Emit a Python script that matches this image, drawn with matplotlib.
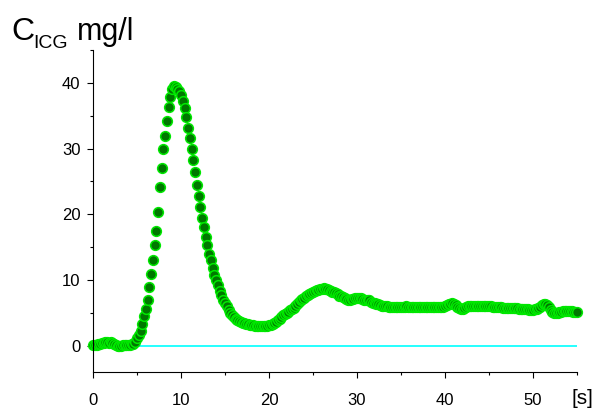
import numpy as np
import matplotlib
matplotlib.use("Agg")
import matplotlib.pyplot as plt
from matplotlib.ticker import MultipleLocator

plt.rcParams['font.family'] = ['Liberation Sans', 'DejaVu Sans']

# ICG concentration curve, sampled every 0.2 s from 0 to 55 s
dt = 0.2
conc = [
    # 0.0 - 4.8 s
    0.1, 0.05, 0.1, 0.2, 0.3, 0.4, 0.45, 0.5, 0.5, 0.45,
    0.5, 0.45, 0.3, 0.15, 0.0, -0.05, 0.0, 0.05, 0.05, 0.1,
    0.1, 0.15, 0.2, 0.3, 0.55,
    # 5.0 - 9.8 s
    1.1, 1.6, 2.3, 3.3, 4.5, 5.6, 7.0, 8.9, 10.9, 13.1,
    15.4, 17.5, 20.4, 24.1, 27.1, 30.0, 31.9, 34.2, 36.4, 37.9,
    39.1, 39.5, 39.4, 39.0, 38.7,
    # 10.0 - 14.8 s
    38.2, 37.3, 36.1, 34.8, 33.1, 31.6, 29.9, 28.3, 26.5, 24.5,
    22.8, 21.1, 19.5, 18.0, 16.6, 15.3, 14.0, 13.0, 11.9, 10.8,
    10.0, 9.2, 8.4, 7.7, 7.0,
    # 15.0 - 19.8 s
    6.5, 6.0, 5.45, 5.0, 4.65, 4.3, 4.05, 3.9, 3.75, 3.6,
    3.5, 3.45, 3.35, 3.28, 3.2, 3.15, 3.1, 3.05, 3.0, 2.95,
    2.95, 2.95, 3.0, 3.0, 3.05,
    # 20.0 - 24.8 s
    3.1, 3.2, 3.35, 3.5, 3.65, 3.85, 4.1, 4.4, 4.7, 4.9,
    5.05, 5.2, 5.4, 5.55, 5.8, 6.1, 6.4, 6.65, 6.9, 7.1,
    7.3, 7.5, 7.7, 7.9, 8.05,
    # 25.0 - 29.8 s
    8.2, 8.35, 8.5, 8.55, 8.6, 8.7, 8.75, 8.7, 8.6, 8.45,
    8.35, 8.25, 8.15, 8.0, 7.8, 7.6, 7.5, 7.4, 7.25, 7.1,
    7.0, 7.0, 7.05, 7.1, 7.2,
    # 30.0 - 34.8 s
    7.25, 7.25, 7.2, 7.1, 7.0, 7.0, 7.0, 6.9, 6.7, 6.55,
    6.45, 6.4, 6.3, 6.2, 6.1, 6.0, 6.0, 6.0, 5.95, 5.95,
    5.95, 5.9, 5.9, 5.85, 5.85,
    # 35.0 - 39.8 s
    5.85, 5.9, 5.95, 6.0, 5.95, 5.9, 5.85, 5.85, 5.9, 5.9,
    5.9, 5.9, 5.9, 5.9, 5.95, 5.95, 5.95, 5.95, 5.9, 5.9,
    5.9, 5.85, 5.85, 5.9, 5.95,
    # 40.0 - 44.8 s
    6.0, 6.15, 6.3, 6.4, 6.45, 6.35, 6.15, 5.9, 5.7, 5.6,
    5.6, 5.7, 5.85, 6.0, 6.05, 6.1, 6.1, 6.1, 6.1, 6.1,
    6.05, 6.05, 6.05, 6.0, 6.0,
    # 45.0 - 49.8 s
    6.0, 6.0, 5.95, 5.95, 5.9, 5.9, 5.85, 5.85, 5.8, 5.8,
    5.8, 5.75, 5.75, 5.75, 5.7, 5.7, 5.7, 5.65, 5.65, 5.6,
    5.6, 5.55, 5.55, 5.5, 5.5,
    # 50.0 - 55.0 s
    5.5, 5.55, 5.6, 5.7, 5.95, 6.2, 6.3, 6.35, 6.2, 5.85,
    5.45, 5.15, 4.95, 4.95, 5.0, 5.1, 5.2, 5.3, 5.35, 5.35,
    5.35, 5.3, 5.25, 5.2, 5.1, 5.1,
]
time = np.arange(len(conc)) * dt

x_ticks = [0, 10, 20, 30, 40, 50]
y_ticks = [0, 10, 20, 30, 40]

fig = plt.figure(figsize=(5.97, 4.12), dpi=100)
ax = fig.add_axes([93 / 597, 40 / 412, 484 / 597, 322 / 412])

ax.axhline(0, color='#00ffff', lw=1.2, zorder=1)
ax.plot(time, conc, 'o', ls='none', ms=7.0, mfc='#007800', mec='#00e800',
        mew=1.1, zorder=2, clip_on=False)

ax.set_xlim(0, 55)
ax.set_ylim(-4, 45)
ax.set_xticks(x_ticks)
ax.set_yticks(y_ticks)
ax.xaxis.set_minor_locator(MultipleLocator(5))
ax.yaxis.set_minor_locator(MultipleLocator(5))
ax.tick_params(which='major', direction='out', length=4, width=0.8,
               labelsize=12, color='black')
ax.tick_params(axis='x', which='major', pad=11)
ax.tick_params(axis='y', which='major', pad=5)
ax.tick_params(which='minor', direction='out', length=2, width=0.8)
for s in ['top', 'right']:
    ax.spines[s].set_visible(False)
for s in ['left', 'bottom']:
    ax.spines[s].set_linewidth(0.8)

# axis titles
fig.text(11 / 597, 1 - 40 / 412, 'C', fontsize=23, va='baseline', ha='left')
fig.text(33 / 597, 1 - 48 / 412, 'ICG', fontsize=14, va='baseline', ha='left')
fig.text(77 / 597, 1 - 40 / 412, 'mg/l', fontsize=22, va='baseline', ha='left')
fig.text(582 / 597, 1 - 399 / 412, '[s]', fontsize=15, va='center', ha='center')

fig.savefig('out.png', dpi=100)
